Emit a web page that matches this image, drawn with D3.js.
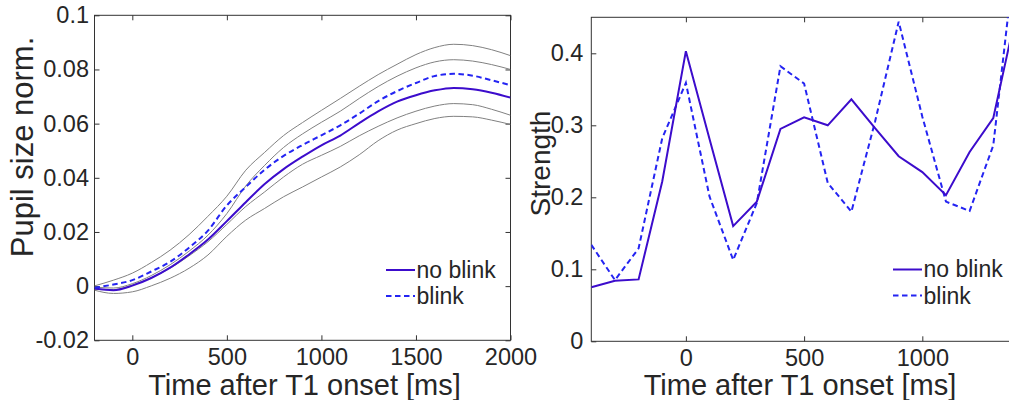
<!DOCTYPE html>
<html>
<head>
<meta charset="utf-8">
<script src="https://cdn.jsdelivr.net/npm/d3@7"></script>
<style>
body { margin: 0; background: #fff; }
svg text { font-family: "Liberation Sans", Arial, Helvetica, sans-serif; fill: #262626; }
</style>
</head>
<body>
<div id="chart"></div>
<script>
// ---- left panel: pupil size over time (sampled every 100 ms) ----
var pupilTime = [-200, -100, 0, 100, 200, 300, 400, 500, 600, 700, 800, 900, 1000,
    1100, 1200, 1300, 1400, 1500, 1600, 1700, 1800, 1900, 2000];
var pupilNoBlink = [-0.0009, -0.0015, 0.0002, 0.0030, 0.0068, 0.0117, 0.0172, 0.0240, 0.0310, 0.0377,
    0.0432, 0.0478, 0.0520, 0.0556, 0.0602, 0.0645, 0.0681, 0.0705, 0.0723, 0.0732, 0.0727, 0.0714, 0.0696];
var pupilBlink = [-0.0006, 0.0006, 0.0022, 0.0054, 0.0090, 0.0142, 0.0205, 0.0298, 0.0366, 0.0430,
    0.0481, 0.0521, 0.0557, 0.0594, 0.0637, 0.0683, 0.0720, 0.0750, 0.0776, 0.0784, 0.0777, 0.0760, 0.0742];
// grey error bounds, top to bottom
var bandUpperOuter = [0.0001, 0.0022, 0.0048, 0.0087, 0.0133, 0.0190, 0.0258, 0.0332, 0.0428, 0.0494,
    0.0556, 0.0604, 0.0649, 0.0693, 0.0738, 0.0781, 0.0819, 0.0855, 0.0881, 0.0893, 0.0888, 0.0873, 0.0851];
var bandUpperInner = [-0.0004, -0.0007, 0.0009, 0.0039, 0.0079, 0.0129, 0.0188, 0.0268, 0.0370, 0.0446,
    0.0512, 0.0562, 0.0605, 0.0646, 0.0693, 0.0737, 0.0775, 0.0806, 0.0828, 0.0836, 0.0831, 0.0818, 0.0800];
var bandLowerInner = [-0.0012, -0.0013, 0.0004, 0.0031, 0.0066, 0.0112, 0.0164, 0.0228, 0.0294, 0.0348,
    0.0403, 0.0450, 0.0483, 0.0516, 0.0555, 0.0590, 0.0621, 0.0646, 0.0665, 0.0674, 0.0670, 0.0653, 0.0631];
var bandLowerOuter = [-0.0015, -0.0027, -0.0021, 0.0001, 0.0029, 0.0066, 0.0115, 0.0184, 0.0244, 0.0287,
    0.0330, 0.0366, 0.0403, 0.0440, 0.0485, 0.0537, 0.0576, 0.0600, 0.0619, 0.0627, 0.0625, 0.0613, 0.0597];
var pupilXTicks = [0, 500, 1000, 1500, 2000];
var pupilYTicks = [-0.02, 0, 0.02, 0.04, 0.06, 0.08, 0.1];

// ---- right panel: strength over time ----
var strTime = [-400, -300, -200, -100, 0, 100, 200, 300, 400, 500, 600, 700, 800, 900,
    1000, 1100, 1200, 1300, 1400];
var strNoBlink = [0.075, 0.084, 0.086, 0.222, 0.403, 0.281, 0.160, 0.194, 0.295, 0.311, 0.300, 0.336,
    0.296, 0.257, 0.235, 0.203, 0.263, 0.310, 0.460];
var strBlink = [0.134, 0.085, 0.129, 0.282, 0.359, 0.201, 0.113, 0.192, 0.382, 0.358, 0.220, 0.180,
    0.305, 0.444, 0.312, 0.194, 0.181, 0.272, 0.560];
var strXTicks = [0, 500, 1000];
var strYTicks = [0, 0.1, 0.2, 0.3, 0.4];

var legendNames = ["no blink", "blink"];

var solidCol = "#3c0ccc", dashCol = "#2424f2", greyCol = "#808080";
var dashes = "5.5,3.5";

var svg = d3.select("#chart")
    .append("svg")
    .attr("width", 1009)
    .attr("height", 400);

function fmt(d) { return d === 0 ? "0" : String(+d.toFixed(2)); }

// draws one MATLAB-like box with inward ticks on all four sides
function drawAxes(id, x, y, xt, yt, yPad) {
    var g = svg.append("g").attr("class", id);
    var x0 = x.range()[0], x1 = x.range()[1], y0 = y.range()[0], y1 = y.range()[1];

    g.append("g")
        .attr("transform", "translate(0," + y0 + ")")
        .call(d3.axisBottom(x).tickValues(xt).tickFormat(fmt).tickSizeInner(-5).tickSizeOuter(0).tickPadding(8));
    g.append("g")
        .attr("transform", "translate(0," + y1 + ")")
        .call(d3.axisTop(x).tickValues(xt).tickFormat("").tickSizeInner(-5).tickSizeOuter(0));
    g.append("g")
        .attr("transform", "translate(" + x0 + ",0)")
        .call(d3.axisLeft(y).tickValues(yt).tickFormat(fmt).tickSizeInner(-5).tickSizeOuter(0).tickPadding(yPad));
    g.append("g")
        .attr("transform", "translate(" + x1 + ",0)")
        .call(d3.axisRight(y).tickValues(yt).tickFormat("").tickSizeInner(-5).tickSizeOuter(0));

    g.selectAll(".domain").remove();
    g.selectAll(".tick line").attr("stroke", "#333");
    g.selectAll(".tick text").style("font-size", "23.5px").attr("fill", "#262626");

    g.append("rect")
        .attr("x", x0).attr("y", y1)
        .attr("width", x1 - x0).attr("height", y0 - y1)
        .attr("fill", "none").attr("stroke", "#333").attr("stroke-width", 1);

    svg.append("clipPath").attr("id", id + "_clip")
        .append("rect")
        .attr("x", x0).attr("y", y1)
        .attr("width", x1 - x0).attr("height", y0 - y1);
}

function drawLegend(lx, ly) {
    var items = [{ name: legendNames[0], col: solidCol, dash: null },
                 { name: legendNames[1], col: dashCol, dash: dashes }];
    items.forEach(function (it, i) {
        svg.append("line")
            .attr("x1", lx).attr("x2", lx + 29)
            .attr("y1", ly + i * 26).attr("y2", ly + i * 26)
            .attr("stroke", it.col).attr("stroke-width", 2)
            .attr("stroke-dasharray", it.dash);
        svg.append("text")
            .attr("x", lx + 30.5).attr("y", ly + 7.5 + i * 26.5)
            .style("font-size", "23px")
            .text(it.name);
    });
}

// ---------- left panel ----------
var xL = d3.scaleLinear().domain([-200, 2000]).range([94.5, 510.5]);
var yL = d3.scaleLinear().domain([-0.02, 0.1]).range([340.3, 15.3]);
drawAxes("left", xL, yL, pupilXTicks, pupilYTicks, 5.5);

var lineL = function (vals) {
    return d3.line()
        .x(function (d, i) { return xL(pupilTime[i]); })
        .y(function (d) { return yL(d); })
        .curve(d3.curveMonotoneX)(vals);
};

var leftPlot = svg.append("g").attr("clip-path", "url(#left_clip)");
[bandUpperOuter, bandUpperInner, bandLowerInner, bandLowerOuter].forEach(function (b) {
    leftPlot.append("path")
        .attr("d", lineL(b))
        .attr("fill", "none").attr("stroke", greyCol).attr("stroke-width", 1);
});
leftPlot.append("path")
    .attr("d", lineL(pupilNoBlink))
    .attr("fill", "none").attr("stroke", solidCol).attr("stroke-width", 2);
leftPlot.append("path")
    .attr("d", lineL(pupilBlink))
    .attr("fill", "none").attr("stroke", dashCol).attr("stroke-width", 2)
    .attr("stroke-dasharray", dashes);

svg.append("text")
    .attr("x", 304.5).attr("y", 395)
    .attr("text-anchor", "middle")
    .style("font-size", "29px")
    .text("Time after T1 onset [ms]");
svg.append("text")
    .attr("transform", "translate(32.5,147) rotate(-90)")
    .attr("text-anchor", "middle")
    .style("font-size", "31px")
    .text("Pupil size norm.");

drawLegend(386, 270);

// ---------- right panel ----------
var xR = d3.scaleLinear().domain([-400, 1400]).range([591.3, 1016.9]);
var yR = d3.scaleLinear().domain([0, 0.45]).range([341.3, 17.3]);
drawAxes("right", xR, yR, strXTicks, strYTicks, 8);

var lineR = d3.line()
    .x(function (d, i) { return xR(strTime[i]); })
    .y(function (d) { return yR(d); });

var rightPlot = svg.append("g").attr("clip-path", "url(#right_clip)");
rightPlot.append("path")
    .attr("d", lineR(strBlink))
    .attr("fill", "none").attr("stroke", dashCol).attr("stroke-width", 2)
    .attr("stroke-dasharray", dashes);
rightPlot.append("path")
    .attr("d", lineR(strNoBlink))
    .attr("fill", "none").attr("stroke", solidCol).attr("stroke-width", 2);

svg.append("text")
    .attr("x", 800).attr("y", 395)
    .attr("text-anchor", "middle")
    .style("font-size", "29px")
    .text("Time after T1 onset [ms]");
svg.append("text")
    .attr("transform", "translate(550,163.5) rotate(-90)")
    .attr("text-anchor", "middle")
    .style("font-size", "28px")
    .text("Strength");

drawLegend(893, 269.5);
</script>
</body>
</html>
